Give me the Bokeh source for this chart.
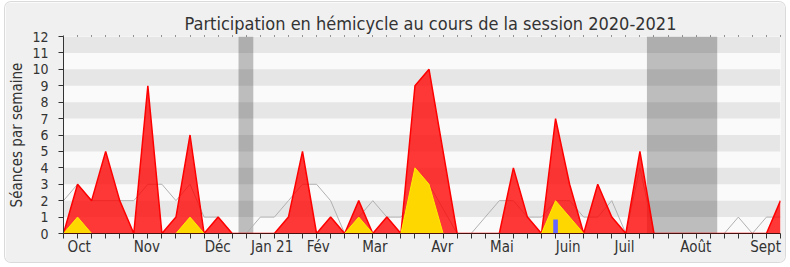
from bokeh.plotting import figure
from bokeh.models import Range1d, FixedTicker, LinearAxis
from bokeh.embed import file_html
from bokeh.resources import INLINE

# ---- data ----
semaines = list(range(52))
seances_hemicycle = [0, 3, 2, 5, 2, 0, 9, 0, 1, 6,
                     0, 1, 0, 0, 0, 0, 1, 5, 0, 1,
                     0, 2, 0, 1, 0, 9, 10, 5, 0, 0,
                     0, 0, 4, 1, 0, 7, 3, 0, 3, 1,
                     0, 5, 0, 0, 0, 0, 0, 0, 0, 0,
                     0, 2]
interventions = [0, 1, 0, 0, 0, 0, 0, 0, 0, 1,
                 0, 0, 0, 0, 0, 0, 0, 0, 0, 0,
                 0, 1, 0, 0, 0, 4, 3, 0, 0, 0,
                 0, 0, 0, 0, 0, 2, 1, 0, 0, 0,
                 0, 0, 0, 0, 0, 0, 0, 0, 0, 0,
                 0, 0]
mediane = [2, 3, 2, 2, 2, 2, 3, 3, 2, 3,
           1, 1, 0, 0, 1, 1, 2, 3, 3, 2,
           0, 1, 2, 1, 1, 2, 3, 1.5, 0, 0,
           1, 2, 2, 1, 1, 2, 2, 1, 1, 2,
           0, 4, 0, 0, 0, 0, 0, 0, 1, 0,
           1, 1]
questions_semaine = [35]
questions_valeur = [0.85]
vacances_debut = [12.45, 41.5]
vacances_fin = [13.5, 46.5]
mois = ["Oct", "Nov", "Déc", "Jan 21", "Fév", "Mar", "Avr", "Mai", "Juin", "Juil", "Août", "Sept"]
mois_pos = [1.12, 5.93, 10.97, 14.84, 18.12, 22.15, 26.94, 31.18, 35.9, 39.9, 44.98, 49.94]
y_ticks = list(range(13))

FONT = "DejaVu Sans Condensed, Liberation Sans"
TXT = "#333333"

p = figure(width=780, height=260, x_range=Range1d(0, 51), y_range=Range1d(0, 12),
           output_backend="svg", toolbar_location=None,
           min_border_left=57, min_border_right=5, min_border_top=34, min_border_bottom=29,
           background_fill_color="#fafafa", border_fill_color="#f0f0f0",
           outline_line_color=None, margin=(2, 5, 5, 5),
           title="Participation en hémicycle au cours de la session 2020-2021")
p.styles = {"border-radius": "6px", "overflow": "hidden",
            "box-shadow": "0 0 0 1px #dadada"}

p.title.text_font = FONT
p.title.text_font_size = "18px"
p.title.text_font_style = "normal"
p.title.text_color = TXT
p.title.align = "left"
p.title.standoff = 3
p.title.offset = 121

# grid bands
p.xgrid.visible = False
p.ygrid.ticker = FixedTicker(ticks=y_ticks)
p.ygrid.grid_line_color = None
p.ygrid.band_fill_color = "#e6e6e6"
p.ygrid.band_fill_alpha = 1

# vacation bands
p.quad(left=vacances_debut, right=vacances_fin, bottom=0, top=12,
       fill_color="#000000", fill_alpha=0.245, line_color=None)

# median line
p.line(semaines, mediane, line_color="#b0b0b0", line_width=1)

# hemicycle presence
p.varea(x=semaines, y1=0, y2=seances_hemicycle, fill_color="#ff0000", fill_alpha=0.78)
p.line(semaines, seances_hemicycle, line_color="#ff0000", line_width=1.5)

# interventions
p.varea(x=semaines, y1=0, y2=interventions, fill_color="#ffd700", fill_alpha=1)
p.line(semaines, interventions, line_color="#ffee00", line_width=1)

# questions
p.vbar(x=questions_semaine, top=questions_valeur, width=0.33,
       fill_color="#6666ff", line_color=None)

# x axis
xa = p.xaxis[0]
xa.ticker = FixedTicker(ticks=mois_pos, minor_ticks=semaines)
xa.major_label_overrides = {pos: lab for pos, lab in zip(mois_pos, mois)}
xa.major_tick_out = 0
xa.major_tick_in = 0
xa.minor_tick_out = 5
xa.minor_tick_in = 0
xa.minor_tick_line_color = TXT
xa.axis_line_color = "#4a1010"
xa.axis_line_width = 1
xa.major_label_text_font = FONT
xa.major_label_text_font_size = "15px"
xa.major_label_text_color = TXT
xa.major_label_standoff = -1

# top dotted ticks
top_axis = LinearAxis(ticker=FixedTicker(ticks=[], minor_ticks=semaines),
                      axis_line_color=None, major_tick_out=0, major_tick_in=0,
                      minor_tick_out=1, minor_tick_in=0, minor_tick_line_color=TXT,
                      major_label_text_font_size="0px", major_label_standoff=0)
p.add_layout(top_axis, "above")

# y axis
ya = p.yaxis[0]
ya.ticker = FixedTicker(ticks=y_ticks)
ya.major_tick_out = 5
ya.major_tick_in = 0
ya.minor_tick_out = 0
ya.minor_tick_in = 0
ya.axis_line_color = TXT
ya.major_tick_line_color = TXT
ya.major_label_text_font = FONT
ya.major_label_text_font_size = "14px"
ya.major_label_text_color = TXT
ya.major_label_standoff = 10
ya.axis_label = "Séances par semaine"
ya.axis_label_text_font = FONT
ya.axis_label_text_font_size = "15px"
ya.axis_label_text_font_style = "normal"
ya.axis_label_text_color = TXT
ya.axis_label_standoff = 3

open("out.html", "w").write(file_html(p, INLINE))
